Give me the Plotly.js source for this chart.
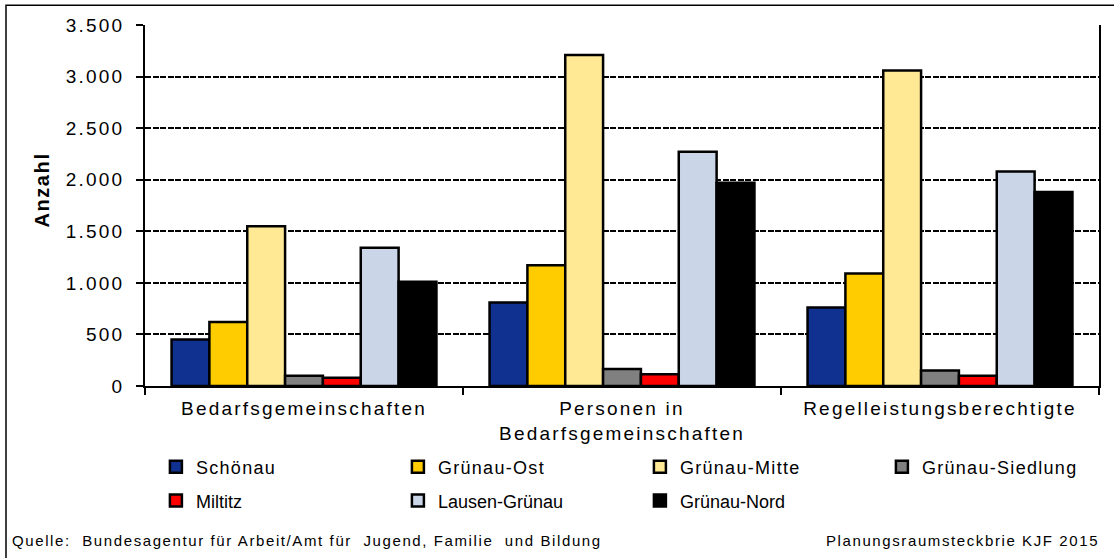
<!DOCTYPE html>
<html>
<head>
<meta charset="utf-8">
<script src="https://cdn.plot.ly/plotly-3.0.1.min.js"></script>
<style>
  body { margin: 0; background: #fff; }
  #plot { width: 1114px; height: 558px; }
  .xtick text, .ytick text { letter-spacing: 2.2px; }
  .legendtext { letter-spacing: 1.3px; }
  .annotation-text { letter-spacing: 1.6px; }
</style>
</head>
<body>
<div id="plot"></div>
<script>
// categories and values
var categories = ["Bedarfsgemeinschaften", "Personen in<br>Bedarfsgemeinschaften", "Regelleistungsberechtigte"];
var schoenau = [450, 810, 760];
var gruenauOst = [620, 1170, 1090];
var gruenauMitte = [1550, 3210, 3060];
var gruenauSiedlung = [100, 165, 150];
var miltitz = [80, 115, 100];
var lausenGruenau = [1340, 2270, 2080];
var gruenauNord = [1010, 1970, 1880];

var font = "Liberation Sans, Arial, sans-serif";

function bar(name, values, color, legend) {
    return {
        x: categories,
        y: values,
        name: name,
        type: "bar",
        legend: legend,
        marker: {color: color, line: {color: "#000", width: 2.5}},
        hoverinfo: "skip"
    };
}

var data = [
    bar("Schönau", schoenau, "#10318F", "legend"),
    bar("Grünau-Ost", gruenauOst, "#FFCC00", "legend"),
    bar("Grünau-Mitte", gruenauMitte, "#FFE994", "legend"),
    bar("Grünau-Siedlung", gruenauSiedlung, "#808080", "legend"),
    bar("Miltitz", miltitz, "#FF0000", "legend2"),
    bar("Lausen-Grünau", lausenGruenau, "#CAD5E7", "legend2"),
    bar("Grünau-Nord", gruenauNord, "#000000", "legend2")
];

// x slightly below 0 lets the legend use the full width (no wrapping)
var legendStyle = {
    orientation: "h",
    xanchor: "left",
    yanchor: "top",
    x: -0.0001,
    indentation: 11,
    entrywidth: 186,
    entrywidthmode: "pixels",
    traceorder: "normal",
    font: {family: font, size: 18, color: "#000"},
    bgcolor: "rgba(0,0,0,0)"
};

var layout = {
    width: 1114,
    height: 558,
    margin: {l: 145, r: 15, t: 25, b: 172},
    paper_bgcolor: "#fff",
    plot_bgcolor: "#fff",
    separators: ",.",
    font: {family: font, size: 19, color: "#000"},
    barmode: "group",
    bargap: 0.167,
    bargroupgap: 0,
    showlegend: true,
    legend: Object.assign({}, legendStyle, {y: -0.173}),
    legend2: Object.assign({}, legendStyle, {y: -0.267}),
    xaxis: {
        type: "category",
        showline: true,
        linecolor: "#000",
        linewidth: 2,
        ticks: "outside",
        tickson: "boundaries",
        ticklen: 7,
        tickwidth: 2,
        tickcolor: "#000",
        ticklabelstandoff: 4,
        tickfont: {family: font, size: 19, color: "#000"}
    },
    yaxis: {
        range: [0, 3500],
        dtick: 500,
        tickformat: ",d",
        showline: true,
        mirror: true,
        linecolor: "#000",
        linewidth: 2,
        ticks: "outside",
        ticklen: 7,
        tickwidth: 2,
        tickcolor: "#000",
        ticklabelstandoff: 8,
        showgrid: true,
        gridcolor: "#000",
        gridwidth: 2,
        griddash: "6px,1.5px",
        zeroline: false,
        tickfont: {family: font, size: 19, color: "#000"}
    },
    annotations: [
        {
            text: "<b>Anzahl</b>", xref: "paper", yref: "paper",
            x: -0.122, y: 0.543, textangle: -90, showarrow: false,
            font: {family: font, size: 20, color: "#000"}
        },
        {
            text: "Quelle:  Bundesagentur für Arbeit/Amt für  Jugend, Familie  und Bildung",
            xref: "paper", yref: "paper", x: -0.141, y: -0.429,
            xanchor: "left", yanchor: "middle", showarrow: false,
            font: {family: font, size: 15, color: "#000"}
        },
        {
            text: "Planungsraumsteckbrie KJF 2015",
            xref: "paper", yref: "paper", x: 1.002, y: -0.429,
            xanchor: "right", yanchor: "middle", showarrow: false,
            font: {family: font, size: 15, color: "#000"}
        }
    ],
    shapes: [
        // outer chart frame (right and bottom sides lie outside the picture)
        {
            type: "rect", xref: "paper", yref: "paper",
            x0: -0.1457, x1: 1.2, y0: -1, y1: 1.055,
            line: {color: "#000", width: 1.5}
        }
    ]
};

Plotly.newPlot("plot", data, layout, {displayModeBar: false, staticPlot: true});
</script>
</body>
</html>
